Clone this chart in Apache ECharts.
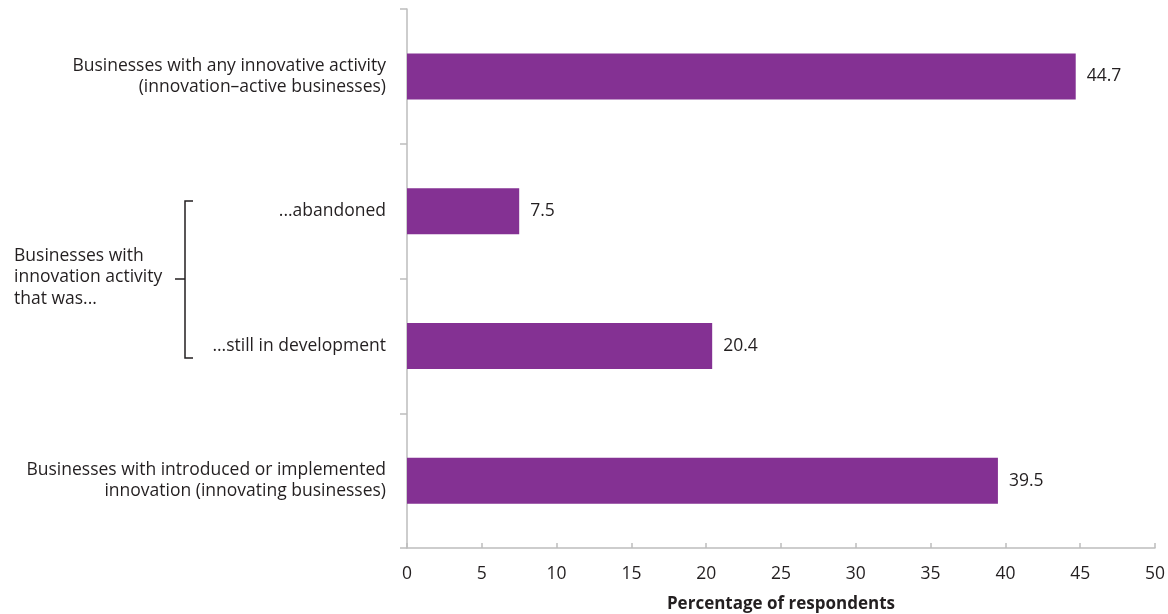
<!DOCTYPE html>
<html>
<head>
<meta charset="utf-8">
<script src="https://cdn.jsdelivr.net/npm/echarts@6/dist/echarts.min.js"></script>
<style>
	html, body { margin: 0; padding: 0; background: #fff; }
	#chart { width: 1168px; height: 614px; }
</style>
</head>
<body>
<div id="chart"></div>
<script>
// categories top to bottom
var categories = [
	'Businesses with any innovative activity\n(innovation\u2013active businesses)',
	'...abandoned',
	'...still in development',
	'Businesses with introduced or implemented\ninnovation (innovating businesses)'
];
var values = [44.7, 7.5, 20.4, 39.5];
var xTicks = [0, 5, 10, 15, 20, 25, 30, 35, 40, 45, 50];
var groupLabel = 'Businesses with\ninnovation activity\nthat was...';
var axisTitle = 'Percentage of respondents';

var textColor = '#231f20';
var axisColor = '#bdbdbd';
var fontFam = '"Open Sans", "DejaVu Sans", sans-serif';
var fs = 17.5;

var myChart = echarts.init(document.getElementById('chart'));

var option = {
	animation: false,
	textStyle: { fontFamily: fontFam },
	grid: {
		left: 407,
		right: 13,
		top: 9,
		bottom: 66,
		outerBoundsMode: 'none',
		containLabel: false
	},
	xAxis: {
		type: 'value',
		min: xTicks[0],
		max: xTicks[xTicks.length - 1],
		interval: 5,
		name: axisTitle,
		nameLocation: 'middle',
		nameGap: 48,
		nameTextStyle: { color: textColor, fontSize: 17, fontWeight: 'bold', fontFamily: fontFam },
		axisLine: { show: true, lineStyle: { color: axisColor, width: 1.5 } },
		axisTick: { show: true, inside: true, length: 5, lineStyle: { color: axisColor, width: 1.5 } },
		axisLabel: { color: textColor, fontSize: fs, margin: 17, fontFamily: fontFam },
		splitLine: { show: false }
	},
	yAxis: {
		type: 'category',
		data: categories,
		inverse: true,
		axisLine: { show: true, lineStyle: { color: axisColor, width: 1.5 } },
		axisTick: { show: true, length: 7, lineStyle: { color: axisColor, width: 1.5 } },
		axisLabel: { color: textColor, fontSize: fs, margin: 21, lineHeight: 21, align: 'right', fontFamily: fontFam }
	},
	series: [{
		type: 'bar',
		data: values,
		barWidth: 46,
		itemStyle: { color: '#843193' },
		label: {
			show: true,
			position: 'right',
			distance: 11,
			color: textColor,
			fontSize: fs,
			fontFamily: fontFam,
			formatter: function(p){ return p.value.toFixed(1); }
		}
	}],
	graphic: [
		{
			type: 'polyline',
			shape: { points: [[193, 201], [185, 201], [185, 358], [193, 358]] },
			style: { stroke: textColor, lineWidth: 1.5, fill: null }
		},
		{
			type: 'line',
			shape: { x1: 175, y1: 279, x2: 185, y2: 279 },
			style: { stroke: textColor, lineWidth: 1.5 }
		},
		{
			type: 'text',
			left: 14,
			top: 245,
			style: {
				text: groupLabel,
				fill: textColor,
				fontSize: fs,
				lineHeight: 21.5,
				fontFamily: fontFam
			}
		}
	]
};
myChart.setOption(option);
</script>
</body>
</html>
